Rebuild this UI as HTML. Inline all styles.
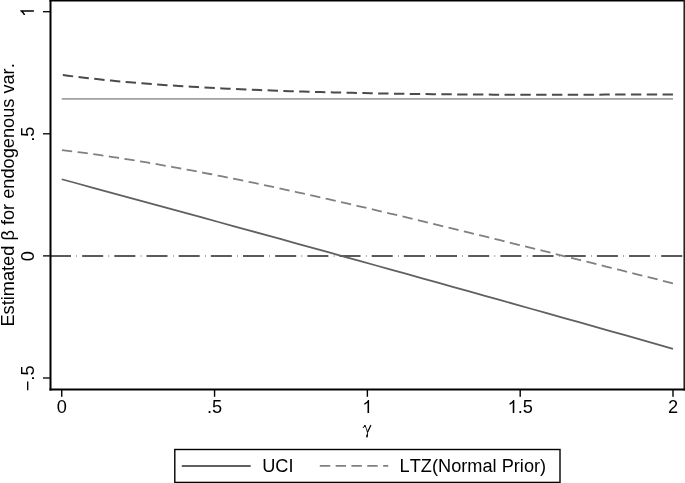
<!DOCTYPE html>
<html><head><meta charset="utf-8"><style>
html,body{margin:0;padding:0;background:#fff;width:685px;height:483px;overflow:hidden}
svg{display:block;will-change:transform}
text{font-family:"Liberation Sans",sans-serif;fill:#000;font-size:19px;font-kerning:none}
</style></head><body>
<svg width="685" height="483" viewBox="0 0 685 483">
<rect x="0" y="0" width="685" height="483" fill="#fff"/>
<!-- zero line -->
<line x1="50" y1="256" x2="683" y2="256" stroke="#5a5a5a" stroke-width="2" stroke-dasharray="21 5.45 0.5 5.22"/>
<!-- gray solid horizontal (UCI upper) -->
<line x1="61.75" y1="98.85" x2="673.00" y2="98.85" stroke="#a0a0a0" stroke-width="1.7"/>
<!-- dark dashed (LTZ upper) -->
<path d="M61.75,74.90 L67.92,75.71 L74.10,76.49 L80.27,77.24 L86.45,77.95 L92.62,78.65 L98.80,79.31 L104.97,79.95 L111.14,80.57 L117.32,81.16 L123.49,81.73 L129.67,82.28 L135.84,82.80 L142.02,83.31 L148.19,83.80 L154.36,84.27 L160.54,84.72 L166.71,85.15 L172.89,85.57 L179.06,85.97 L185.23,86.36 L191.41,86.74 L197.58,87.10 L203.76,87.44 L209.93,87.78 L216.11,88.10 L222.28,88.41 L228.45,88.71 L234.63,88.99 L240.80,89.27 L246.98,89.54 L253.15,89.80 L259.33,90.05 L265.50,90.28 L271.67,90.52 L277.85,90.74 L284.02,90.95 L290.20,91.16 L296.37,91.36 L302.55,91.55 L308.72,91.73 L314.89,91.91 L321.07,92.08 L327.24,92.25 L333.42,92.41 L339.59,92.56 L345.77,92.70 L351.94,92.84 L358.11,92.98 L364.29,93.11 L370.46,93.23 L376.64,93.35 L382.81,93.46 L388.98,93.56 L395.16,93.66 L401.33,93.76 L407.51,93.85 L413.68,93.94 L419.86,94.02 L426.03,94.10 L432.20,94.17 L438.38,94.23 L444.55,94.30 L450.73,94.35 L456.90,94.41 L463.08,94.46 L469.25,94.50 L475.42,94.54 L481.60,94.58 L487.77,94.61 L493.95,94.64 L500.12,94.66 L506.30,94.68 L512.47,94.70 L518.64,94.71 L524.82,94.72 L530.99,94.73 L537.17,94.73 L543.34,94.73 L549.52,94.73 L555.69,94.72 L561.86,94.72 L568.04,94.71 L574.21,94.69 L580.39,94.68 L586.56,94.67 L592.73,94.65 L598.91,94.63 L605.08,94.62 L611.26,94.60 L617.43,94.58 L623.61,94.56 L629.78,94.55 L635.95,94.53 L642.13,94.52 L648.30,94.51 L654.48,94.50 L660.65,94.49 L666.83,94.49 L673.00,94.49" fill="none" stroke="#4a4a4a" stroke-width="2" stroke-dasharray="10.4 5.4" stroke-dashoffset="-1.1"/>
<!-- light dashed (LTZ lower) -->
<path d="M61.75,150.01 L67.92,150.78 L74.10,151.57 L80.27,152.38 L86.45,153.22 L92.62,154.08 L98.80,154.96 L104.97,155.86 L111.14,156.78 L117.32,157.72 L123.49,158.68 L129.67,159.66 L135.84,160.66 L142.02,161.68 L148.19,162.72 L154.36,163.77 L160.54,164.85 L166.71,165.94 L172.89,167.04 L179.06,168.16 L185.23,169.30 L191.41,170.45 L197.58,171.62 L203.76,172.80 L209.93,174.00 L216.11,175.21 L222.28,176.43 L228.45,177.66 L234.63,178.91 L240.80,180.17 L246.98,181.45 L253.15,182.73 L259.33,184.03 L265.50,185.33 L271.67,186.65 L277.85,187.98 L284.02,189.32 L290.20,190.66 L296.37,192.02 L302.55,193.38 L308.72,194.76 L314.89,196.14 L321.07,197.53 L327.24,198.93 L333.42,200.33 L339.59,201.75 L345.77,203.16 L351.94,204.59 L358.11,206.02 L364.29,207.46 L370.46,208.91 L376.64,210.36 L382.81,211.81 L388.98,213.28 L395.16,214.74 L401.33,216.21 L407.51,217.69 L413.68,219.17 L419.86,220.65 L426.03,222.14 L432.20,223.63 L438.38,225.13 L444.55,226.63 L450.73,228.13 L456.90,229.63 L463.08,231.14 L469.25,232.65 L475.42,234.16 L481.60,235.68 L487.77,237.20 L493.95,238.72 L500.12,240.24 L506.30,241.76 L512.47,243.29 L518.64,244.81 L524.82,246.34 L530.99,247.87 L537.17,249.40 L543.34,250.93 L549.52,252.47 L555.69,254.00 L561.86,255.54 L568.04,257.07 L574.21,258.61 L580.39,260.15 L586.56,261.69 L592.73,263.23 L598.91,264.77 L605.08,266.31 L611.26,267.85 L617.43,269.39 L623.61,270.94 L629.78,272.48 L635.95,274.02 L642.13,275.57 L648.30,277.11 L654.48,278.66 L660.65,280.21 L666.83,281.76 L673.00,283.30" fill="none" stroke="#808080" stroke-width="1.8" stroke-dasharray="10.3 5.48" stroke-dashoffset="-0.2"/>
<!-- solid dark (UCI lower) -->
<path d="M61.75,179.25 L77.42,183.50 L93.10,187.76 L108.77,192.02 L124.44,196.29 L140.12,200.56 L155.79,204.84 L171.46,209.12 L187.13,213.41 L202.81,217.70 L218.48,222.00 L234.15,226.30 L249.83,230.61 L265.50,234.92 L281.17,239.24 L296.85,243.56 L312.52,247.89 L328.19,252.22 L343.87,256.56 L359.54,260.90 L375.21,265.25 L390.88,269.60 L406.56,273.96 L422.23,278.32 L437.90,282.69 L453.58,287.06 L469.25,291.44 L484.92,295.82 L500.60,300.21 L516.27,304.60 L531.94,309.00 L547.62,313.40 L563.29,317.81 L578.96,322.22 L594.63,326.64 L610.31,331.06 L625.98,335.49 L641.65,339.92 L657.33,344.36 L673.00,348.80" fill="none" stroke="#606060" stroke-width="1.8"/>
<!-- frame -->
<rect x="49.5" y="0" width="2" height="390.5" fill="#000"/>
<rect x="49.5" y="0" width="635.5" height="1.5" fill="#000"/>
<rect x="683.45" y="0" width="1.55" height="390.5" fill="#222"/>
<rect x="49.5" y="388.5" width="635.5" height="2" fill="#000"/>
<g fill="#000">
<rect x="43" y="11.05" width="7" height="1.3"/>
<rect x="43" y="133.15" width="7" height="1.3"/>
<rect x="43" y="255.25" width="7" height="1.3"/>
<rect x="43" y="377.35" width="7" height="1.3"/>
<rect x="61.05" y="390" width="1.4" height="6.8"/>
<rect x="213.86" y="390" width="1.4" height="6.8"/>
<rect x="366.68" y="390" width="1.4" height="6.8"/>
<rect x="519.49" y="390" width="1.4" height="6.8"/>
<rect x="672.30" y="390" width="1.4" height="6.8"/>
</g>
<g transform="translate(33.9,17.01) rotate(-90)"><path d="M763,0 L583,0 L583,1147 Q518,1085 412,1023 Q307,961 223,930 L223,1104 Q374,1175 487,1276 Q600,1377 647,1472 L763,1472 Z" transform="translate(0.00,0.00) scale(0.008888,-0.009277)" fill="#000"/></g>
<text text-anchor="middle" transform="translate(33.90,134.15) rotate(-90) scale(0.958,1)">.5</text>
<text text-anchor="middle" transform="translate(33.90,256.25) rotate(-90) scale(0.958,1)">0</text>
<text text-anchor="middle" transform="translate(33.90,378.35) rotate(-90) scale(0.958,1)">&#8722;.5</text>
<!-- y title -->
<text text-anchor="middle" transform="translate(13.90,194.90) rotate(-90) scale(0.958,1)">Estimated β for endogenous var.</text>
<text text-anchor="middle" transform="translate(61.75,412.90) scale(0.958,1)">0</text>
<text text-anchor="middle" transform="translate(214.56,412.90) scale(0.958,1)">.5</text>
<path d="M763,0 L583,0 L583,1147 Q518,1085 412,1023 Q307,961 223,930 L223,1104 Q374,1175 487,1276 Q600,1377 647,1472 L763,1472 Z" transform="translate(362.31,412.90) scale(0.008888,-0.008798)" fill="#000"/>
<path d="M763,0 L583,0 L583,1147 Q518,1085 412,1023 Q307,961 223,930 L223,1104 Q374,1175 487,1276 Q600,1377 647,1472 L763,1472 Z" transform="translate(507.54,412.90) scale(0.008888,-0.008798)" fill="#000"/>
<text transform="translate(517.66,412.90) scale(0.958,1)">.5</text>
<text text-anchor="middle" transform="translate(673.00,412.90) scale(0.958,1)">2</text>
<!-- x title: gamma -->
<g fill="none" stroke="#000" stroke-linecap="round">
<path d="M363.2,427.6 Q363.7,426.2 364.8,425.8" stroke-width="1.0"/>
<path d="M365.3,426.1 Q366.6,428.4 367.4,432" stroke-width="0.9"/>
<path d="M370.7,425.5 L367.5,432.2" stroke-width="1.25"/>
</g>
<circle cx="364.9" cy="425.95" r="0.85" fill="#000"/>
<path d="M367.7,432.3 C368.1,433.9 368.1,435.9 367.7,437.0 C367.3,437.8 366.3,437.7 366.2,436.9 C366.0,435.6 366.9,434.0 367.7,432.3 Z" fill="#000"/>
<!-- legend -->
<rect x="174.8" y="449.5" width="385.2" height="32.9" fill="none" stroke="#000" stroke-width="1.4"/>
<line x1="181.8" y1="465.9" x2="250.7" y2="465.9" stroke="#606060" stroke-width="2"/>
<text transform="translate(262.20,472.40) scale(0.958,1)">UCI</text>
<line x1="319.8" y1="465.9" x2="388.2" y2="465.9" stroke="#808080" stroke-width="1.8" stroke-dasharray="10.4 5.43"/>
<text transform="translate(399.60,472.40) scale(0.958,1)">LTZ(Normal Prior)</text>
</svg>
</body></html>
